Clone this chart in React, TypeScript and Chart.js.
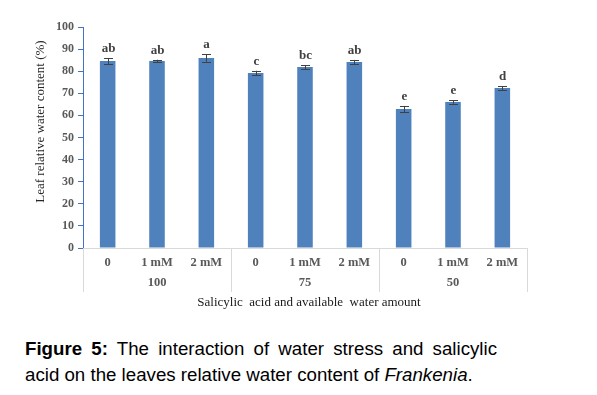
import React, { useEffect, useRef } from "react";
import { Chart, registerables } from "chart.js";

Chart.register(...registerables);

const treatments = ["0", "1 mM", "2 mM", "0", "1 mM", "2 mM", "0", "1 mM", "2 mM"];
const waterGroups = ["100", "75", "50"];
const rwcValues = [84.6, 84.6, 86.0, 79.2, 81.9, 84.2, 62.9, 66.1, 72.4];
const rwcErrors = [1.3, 0.6, 1.7, 1.0, 0.9, 0.9, 1.4, 0.8, 0.9];
const letters = ["ab", "ab", "a", "c", "bc", "ab", "e", "e", "d"];

const yTitle = "Leaf relative water content (%)";
const xTitle = "Salicylic  acid and available  water amount";

const SERIF = "'Liberation Serif', 'Times New Roman', serif";

const annotationPlugin = {
  id: "annotations",
  afterDatasetsDraw(chart: any) {
    const ctx = chart.ctx;
    const y = chart.scales.y;
    const x = chart.scales.x;
    ctx.save();
    ctx.strokeStyle = "#404040";
    ctx.lineWidth = 1;
    rwcValues.forEach((v, i) => {
      const cx = Math.round(x.getPixelForValue(i)) + 0.5;
      const top = y.getPixelForValue(v + rwcErrors[i]);
      const bot = y.getPixelForValue(v - rwcErrors[i]);
      ctx.beginPath();
      ctx.moveTo(cx, top);
      ctx.lineTo(cx, bot);
      ctx.moveTo(cx - 4.5, Math.round(top) + 0.5);
      ctx.lineTo(cx + 4.5, Math.round(top) + 0.5);
      ctx.moveTo(cx - 4.5, Math.round(bot) + 0.5);
      ctx.lineTo(cx + 4.5, Math.round(bot) + 0.5);
      ctx.stroke();
      ctx.fillStyle = "#404040";
      ctx.font = `bold 13px ${SERIF}`;
      ctx.textAlign = "center";
      ctx.textBaseline = "alphabetic";
      ctx.fillText(letters[i], cx, top - 6);
    });
    ctx.restore();
  },
  afterDraw(chart: any) {
    const ctx = chart.ctx;
    const x = chart.scales.x;
    const area = chart.chartArea;
    ctx.save();
    // group dividers
    const divs = [area.left];
    for (let g = 1; g < waterGroups.length; g++) {
      divs.push((x.getPixelForValue(g * 3 - 1) + x.getPixelForValue(g * 3)) / 2);
    }
    divs.push(area.right);
    ctx.strokeStyle = "#d9d9d9";
    ctx.lineWidth = 1;
    divs.forEach((d) => {
      const px = Math.round(d) + 0.5;
      ctx.beginPath();
      ctx.moveTo(px, area.bottom);
      ctx.lineTo(px, area.bottom + 44);
      ctx.stroke();
    });
    // group labels
    ctx.fillStyle = "#595959";
    ctx.font = `bold 12.5px ${SERIF}`;
    ctx.textAlign = "center";
    ctx.textBaseline = "middle";
    waterGroups.forEach((g, i) => {
      ctx.fillText(g, x.getPixelForValue(i * 3 + 1), area.bottom + 35);
    });
    // x title
    ctx.fillStyle = "#1a1a1a";
    ctx.font = `13px ${SERIF}`;
    ctx.fillText(xTitle, (area.left + area.right) / 2 + 4, area.bottom + 55);
    // y title
    ctx.translate(41, 121.5);
    ctx.rotate(-Math.PI / 2);
    ctx.font = `13px ${SERIF}`;
    ctx.fillStyle = "#262626";
    ctx.fillText(yTitle, 0, 0);
    ctx.restore();
  },
};

function App() {
  const ref = useRef<HTMLCanvasElement>(null);
  useEffect(() => {
    if (!ref.current) return;
    const chart = new Chart(ref.current, {
      type: "bar",
      data: {
        labels: treatments,
        datasets: [
          {
            data: rwcValues,
            backgroundColor: "#4F81BD",
            borderWidth: 0,
            categoryPercentage: 1,
            barPercentage: 0.315,
          },
        ],
      },
      options: {
        responsive: false,
        animation: false,
        devicePixelRatio: 1,
        layout: { padding: { top: 27, right: 70, left: 0, bottom: 0 } },
        plugins: { legend: { display: false }, tooltip: { enabled: false } },
        scales: {
          x: {
            type: "category",
            offset: true,
            grid: { display: false, drawTicks: false },
            border: { display: true, color: "#d9d9d9", width: 1 },
            ticks: {
              color: "#595959",
              font: { family: SERIF, size: 12.5, weight: "bold" },
              padding: 7,
              maxRotation: 0,
              autoSkip: false,
            },
            afterFit: (s: any) => {
              s.height = 72;
            },
          },
          y: {
            min: 0,
            max: 100,
            ticks: {
              stepSize: 10,
              color: "#595959",
              font: { family: SERIF, size: 12, weight: "bold" },
              padding: 4,
            },
            grid: { display: true, drawOnChartArea: false, tickLength: 5, color: "#4472C4" },
            border: { display: true, color: "#4472C4", width: 1 },
            afterFit: (s: any) => {
              s.width = 83;
            },
          },
        },
      },
      plugins: [annotationPlugin],
    });
    return () => chart.destroy();
  }, []);

  return (
    <div style={{ position: "absolute", left: 0, top: 0, width: 597, height: 395, background: "#fff" }}>
      <canvas ref={ref} width={597} height={320} style={{ position: "absolute", left: 0, top: 0 }} />
      <div
        style={{
          position: "absolute",
          left: 25,
          top: 335.5,
          width: 472,
          fontFamily: "'Liberation Sans', Arial, sans-serif",
          fontSize: 18.7,
          lineHeight: "26px",
          textAlign: "justify",
          color: "#000",
        }}
      >
        <b>Figure 5:</b> The interaction of water stress and salicylic acid on the leaves relative water content of{" "}
        <i>Frankenia</i>.
      </div>
    </div>
  );
}

export default App;
